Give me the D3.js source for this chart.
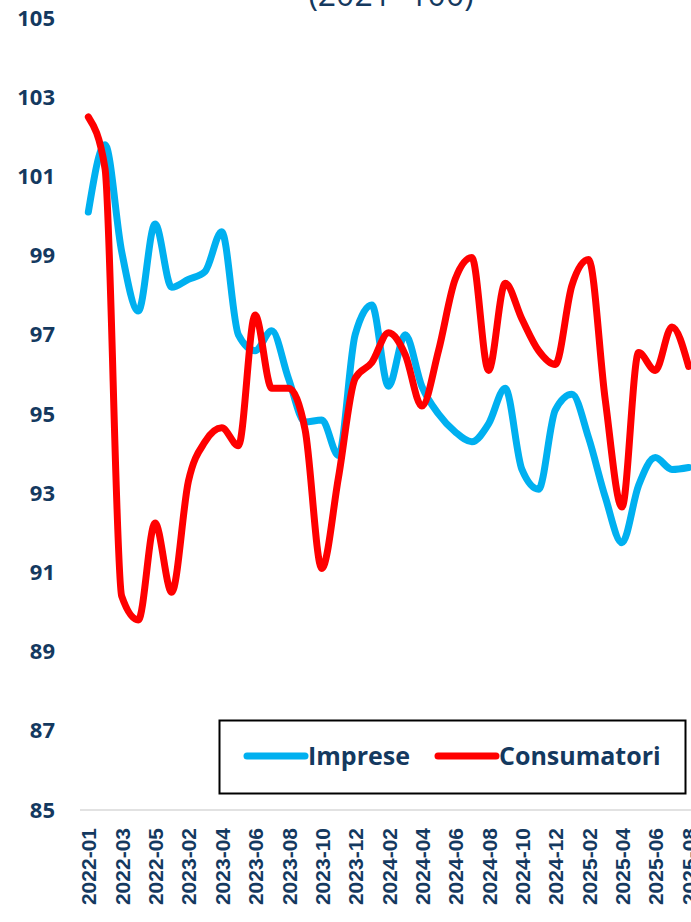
<!DOCTYPE html>
<html>
<head>
<meta charset="utf-8">
<script src="https://cdn.jsdelivr.net/npm/d3@7"></script>
<style>
  body { margin: 0; background: #fff; }
  svg { display: block; }
  .axis text { fill: #14395f; font-weight: 700; }
</style>
</head>
<body>
<svg width="691" height="922"></svg>
<script>
// months shown on the chart (2022-06 .. 2022-12 are not in the series)
var months = ["2022-01","2022-02","2022-03","2022-04","2022-05",
  "2023-01","2023-02","2023-03","2023-04","2023-05","2023-06","2023-07","2023-08","2023-09","2023-10","2023-11","2023-12",
  "2024-01","2024-02","2024-03","2024-04","2024-05","2024-06","2024-07","2024-08","2024-09","2024-10","2024-11","2024-12",
  "2025-01","2025-02","2025-03","2025-04","2025-05","2025-06","2025-07","2025-08"];

var imprese = [100.1, 101.8, 99.1, 97.6, 99.8, 98.2, 98.4, 98.6, 99.6, 97.0, 96.6, 97.1,
  95.9, 94.8, 94.85, 93.95, 97.0, 97.75, 95.7, 97.0, 95.7, 95.0, 94.55, 94.3,
  94.75, 95.65, 93.6, 93.1, 95.1, 95.5, 94.4, 92.9, 91.75, 93.2, 93.9, 93.6, 93.65];

var consumatori = [102.5, 101.2, 90.4, 89.8, 92.25, 90.5, 93.3, 94.3, 94.65, 94.2, 97.5, 95.65,
  95.65, 94.6, 91.1, 93.4, 95.9, 96.3, 97.05, 96.5, 95.2, 96.6, 98.4, 98.95,
  96.1, 98.3, 97.4, 96.6, 96.25, 98.25, 98.9, 95.35, 92.65, 96.55, 96.1, 97.2, 96.2];

var yTicks = [85, 87, 89, 91, 93, 95, 97, 99, 101, 103, 105];

var svg = d3.select("svg"),
    margin = {top: 18, left: 80, bottom: 112},
    height = +svg.attr("height") - margin.top - margin.bottom;

var x = d3.scalePoint().domain(months).range([margin.left, 697]).padding(0.5),
    y = d3.scaleLinear().domain([85, 105]).range([margin.top + height, margin.top]);

// title, mostly cut off at the top
svg.append("text")
  .attr("x", 391)
  .attr("y", 6)
  .attr("text-anchor", "middle")
  .style("font", "32px 'Open Sans', sans-serif")
  .style("fill", "#14395f")
  .text("(2021=100)");

// baseline
svg.append("line")
  .attr("x1", margin.left).attr("x2", 691)
  .attr("y1", y(85)).attr("y2", y(85))
  .attr("stroke", "#d9d9d9")
  .attr("stroke-width", 1.5);

// y axis labels
svg.append("g")
  .attr("class", "axis")
  .attr("transform", "translate(" + margin.left + ",0)")
  .call(d3.axisLeft(y).tickValues(yTicks).tickSize(0).tickPadding(25).tickFormat(d3.format("d")))
  .call(function(g) { g.select(".domain").remove(); })
  .selectAll("text")
  .style("font-family", "'Open Sans', sans-serif")
  .style("font-size", "22px");

// x axis labels, every second month
svg.append("g")
  .attr("class", "axis")
  .attr("transform", "translate(0," + y(85) + ")")
  .call(d3.axisBottom(x).tickValues(months.filter(function(d, i) { return i % 2 === 0; })).tickSize(0))
  .call(function(g) { g.select(".domain").remove(); })
  .selectAll("text")
  .attr("transform", "rotate(-90)")
  .attr("text-anchor", "end")
  .attr("x", -18)
  .attr("y", 0)
  .attr("dy", "0.36em")
  .style("font-family", "'Liberation Sans', Arial, sans-serif")
  .style("font-size", "21px");

var series = [
  {name: "Imprese", values: imprese, color: "#00b0f0"},
  {name: "Consumatori", values: consumatori, color: "#ff0000"}
];

var line = d3.line()
  .curve(d3.curveMonotoneX)
  .x(function(d, i) { return x(months[i]); })
  .y(function(d) { return y(d); });

svg.selectAll(".series")
  .data(series)
  .enter().append("path")
  .attr("class", "series")
  .attr("d", function(d) { return line(d.values); })
  .attr("fill", "none")
  .attr("stroke", function(d) { return d.color; })
  .attr("stroke-width", 7)
  .attr("stroke-linejoin", "round")
  .attr("stroke-linecap", "round");

// legend
var legend = svg.append("g");
legend.append("rect")
  .attr("x", 219.5).attr("y", 720.5)
  .attr("width", 466).attr("height", 73)
  .attr("fill", "#fff")
  .attr("stroke", "#000")
  .attr("stroke-width", 2);

var legendX = [247, 438];
var item = legend.selectAll(".item")
  .data(series)
  .enter().append("g")
  .attr("class", "item")
  .attr("transform", function(d, i) { return "translate(" + legendX[i] + ",756)"; });

item.append("line")
  .attr("x1", 0).attr("x2", 58)
  .attr("stroke", function(d) { return d.color; })
  .attr("stroke-width", 7)
  .attr("stroke-linecap", "round");

item.append("text")
  .attr("x", 61)
  .attr("y", 9)
  .style("font", "700 25px 'Open Sans', sans-serif")
  .style("fill", "#14395f")
  .text(function(d) { return d.name; });
</script>
</body>
</html>
